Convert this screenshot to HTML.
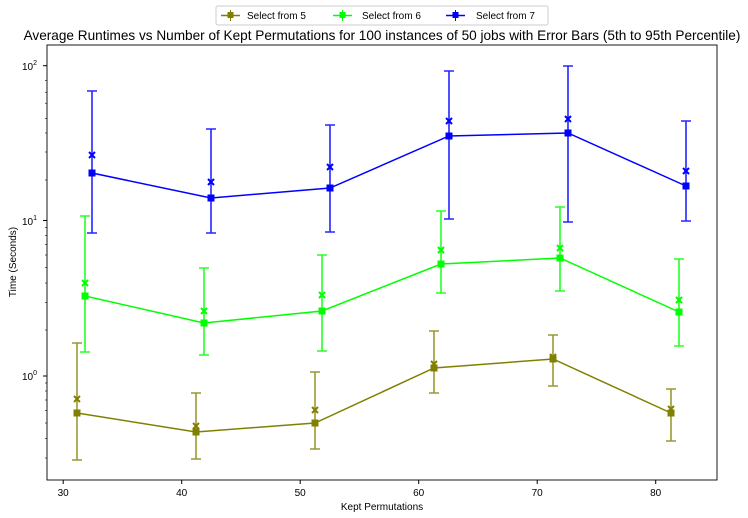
<!DOCTYPE html>
<html><head><style>body{margin:0;background:#fff}svg{display:block;font-family:"Liberation Sans","DejaVu Sans",sans-serif}</style></head>
<body>
<svg width="748" height="518" viewBox="0 0 748 518" xmlns="http://www.w3.org/2000/svg">
<text x="382" y="40" font-size="13.6" text-anchor="middle" fill="#000">Average Runtimes vs Number of Kept Permutations for 100 instances of 50 jobs with Error Bars (5th to 95th Percentile)</text>
<!-- legend -->
<rect x="216" y="6" width="332" height="19" fill="#fff" stroke="#ccc" rx="2"/>
<g font-size="10" fill="#000">
<line x1="221" y1="15.5" x2="240" y2="15.5" stroke="#808000" stroke-width="1.5"/><rect x="227.5" y="12" width="6" height="6" fill="#808000"/><line x1="230.5" y1="10" x2="230.5" y2="21" stroke="#808000"/><text x="247" y="19">Select from 5</text>
<line x1="333" y1="15.5" x2="352" y2="15.5" stroke="#00ff00" stroke-width="1.5"/><rect x="339.5" y="12" width="6" height="6" fill="#00ff00"/><line x1="342.5" y1="10" x2="342.5" y2="21" stroke="#00ff00"/><text x="362" y="19">Select from 6</text>
<line x1="446" y1="15.5" x2="465" y2="15.5" stroke="#0000ff" stroke-width="1.5"/><rect x="452.5" y="12" width="6" height="6" fill="#0000ff"/><line x1="455.5" y1="10" x2="455.5" y2="21" stroke="#0000ff"/><text x="476" y="19">Select from 7</text>
</g>
<rect x="47" y="45" width="670" height="435" fill="none" stroke="#000" stroke-width="0.9"/>
<g stroke="#000">
<line x1="63.2" y1="480" x2="63.2" y2="484"/><line x1="181.7" y1="480" x2="181.7" y2="484"/><line x1="300.2" y1="480" x2="300.2" y2="484"/><line x1="418.7" y1="480" x2="418.7" y2="484"/><line x1="537.2" y1="480" x2="537.2" y2="484"/><line x1="655.7" y1="480" x2="655.7" y2="484"/>
</g>
<g font-size="10" text-anchor="middle" fill="#000">
<text x="63.2" y="496">30</text><text x="181.7" y="496">40</text><text x="300.2" y="496">50</text><text x="418.7" y="496">60</text><text x="537.2" y="496">70</text><text x="655.7" y="496">80</text>
<text x="382" y="510">Kept Permutations</text>
<text transform="translate(16,262) rotate(-90)">Time (Seconds)</text>
</g>
<g stroke="#000">
<line x1="43" y1="65.7" x2="47" y2="65.7"/><line x1="43" y1="220.5" x2="47" y2="220.5"/><line x1="43" y1="376" x2="47" y2="376"/>
<g stroke-width="0.6">
<line x1="45" y1="80.6" x2="47" y2="80.6"/><line x1="45" y1="92.2" x2="47" y2="92.2"/><line x1="45" y1="103.2" x2="47" y2="103.2"/><line x1="45" y1="118.3" x2="47" y2="118.3"/><line x1="45" y1="133" x2="47" y2="133"/><line x1="45" y1="152" x2="47" y2="152"/><line x1="45" y1="180" x2="47" y2="180"/>
<line x1="45" y1="227.6" x2="47" y2="227.6"/><line x1="45" y1="235.5" x2="47" y2="235.5"/><line x1="45" y1="244.5" x2="47" y2="244.5"/><line x1="45" y1="255" x2="47" y2="255"/><line x1="45" y1="267.6" x2="47" y2="267.6"/><line x1="45" y1="283" x2="47" y2="283"/><line x1="45" y1="302.5" x2="47" y2="302.5"/><line x1="45" y1="330" x2="47" y2="330"/>
<line x1="45" y1="383" x2="47" y2="383"/><line x1="45" y1="391" x2="47" y2="391"/><line x1="45" y1="400" x2="47" y2="400"/><line x1="45" y1="410.5" x2="47" y2="410.5"/><line x1="45" y1="423" x2="47" y2="423"/><line x1="45" y1="438.5" x2="47" y2="438.5"/><line x1="45" y1="458" x2="47" y2="458"/>
</g></g>
<g font-size="10" fill="#000" text-anchor="end">
<text x="37" y="70">10<tspan dy="-5" font-size="7">2</tspan></text>
<text x="37" y="225">10<tspan dy="-5" font-size="7">1</tspan></text>
<text x="37" y="380">10<tspan dy="-5" font-size="7">0</tspan></text>
</g>
<defs>
<g id="x"><path d="M-3,-3L3,3M-3,3L3,-3" stroke-width="2"/></g>
</defs>
<g stroke="#808000" fill="#808000">
<g stroke-width="1.6" opacity="0.8">
<path d="M77,343V460M72,343H82M72,460H82"/><path d="M196,393V459M191,393H201M191,459H201"/><path d="M315,372V449M310,372H320M310,449H320"/><path d="M434,331V393M429,331H439M429,393H439"/><path d="M553,335V386M548,335H558M548,386H558"/><path d="M671,389V441M666,389H676M666,441H676"/>
</g>
<polyline fill="none" stroke-width="1.5" points="77,413 196,432 315,423 434,368 553,359 671,413"/>
<g><rect x="74" y="410" width="6" height="6"/><rect x="193" y="429" width="6" height="6"/><rect x="312" y="420" width="6" height="6"/><rect x="431" y="365" width="6" height="6"/><rect x="550" y="356" width="6" height="6"/><rect x="668" y="410" width="6" height="6"/></g>
<use href="#x" x="77" y="399"/><use href="#x" x="196" y="426"/><use href="#x" x="315" y="410"/><use href="#x" x="434" y="364"/><use href="#x" x="553" y="357"/><use href="#x" x="671" y="409"/>
</g>
<g stroke="#00ff00" fill="#00ff00">
<g stroke-width="1.6" opacity="0.85">
<path d="M85,216V352M80,216H90M80,352H90"/><path d="M204,268V355M199,268H209M199,355H209"/><path d="M322,255V351M317,255H327M317,351H327"/><path d="M441,211V293M436,211H446M436,293H446"/><path d="M560,207V291M555,207H565M555,291H565"/><path d="M679,259V346M674,259H684M674,346H684"/>
</g>
<polyline fill="none" stroke-width="1.5" points="85,296 204,323 322,311 441,264 560,258 679,312"/>
<g><rect x="82" y="293" width="6" height="6"/><rect x="201" y="320" width="6" height="6"/><rect x="319" y="308" width="6" height="6"/><rect x="438" y="261" width="6" height="6"/><rect x="557" y="255" width="6" height="6"/><rect x="676" y="309" width="6" height="6"/></g>
<use href="#x" x="85" y="283"/><use href="#x" x="204" y="311"/><use href="#x" x="322" y="295"/><use href="#x" x="441" y="250"/><use href="#x" x="560" y="248"/><use href="#x" x="679" y="300"/>
</g>
<g stroke="#0000ff" fill="#0000ff">
<g stroke-width="1.6" opacity="0.85">
<path d="M92,91V233M87,91H97M87,233H97"/><path d="M211,129V233M206,129H216M206,233H216"/><path d="M330,125V232M325,125H335M325,232H335"/><path d="M449,71V219M444,71H454M444,219H454"/><path d="M568,66V222M563,66H573M563,222H573"/><path d="M686,121V221M681,121H691M681,221H691"/>
</g>
<polyline fill="none" stroke-width="1.5" points="92,173 211,198 330,188 449,136 568,133 686,186"/>
<g><rect x="89" y="170" width="6" height="6"/><rect x="208" y="195" width="6" height="6"/><rect x="327" y="185" width="6" height="6"/><rect x="446" y="133" width="6" height="6"/><rect x="565" y="130" width="6" height="6"/><rect x="683" y="183" width="6" height="6"/></g>
<use href="#x" x="92" y="155"/><use href="#x" x="211" y="182"/><use href="#x" x="330" y="167"/><use href="#x" x="449" y="121"/><use href="#x" x="568" y="119"/><use href="#x" x="686" y="171"/>
</g>
</svg>
</body></html>
